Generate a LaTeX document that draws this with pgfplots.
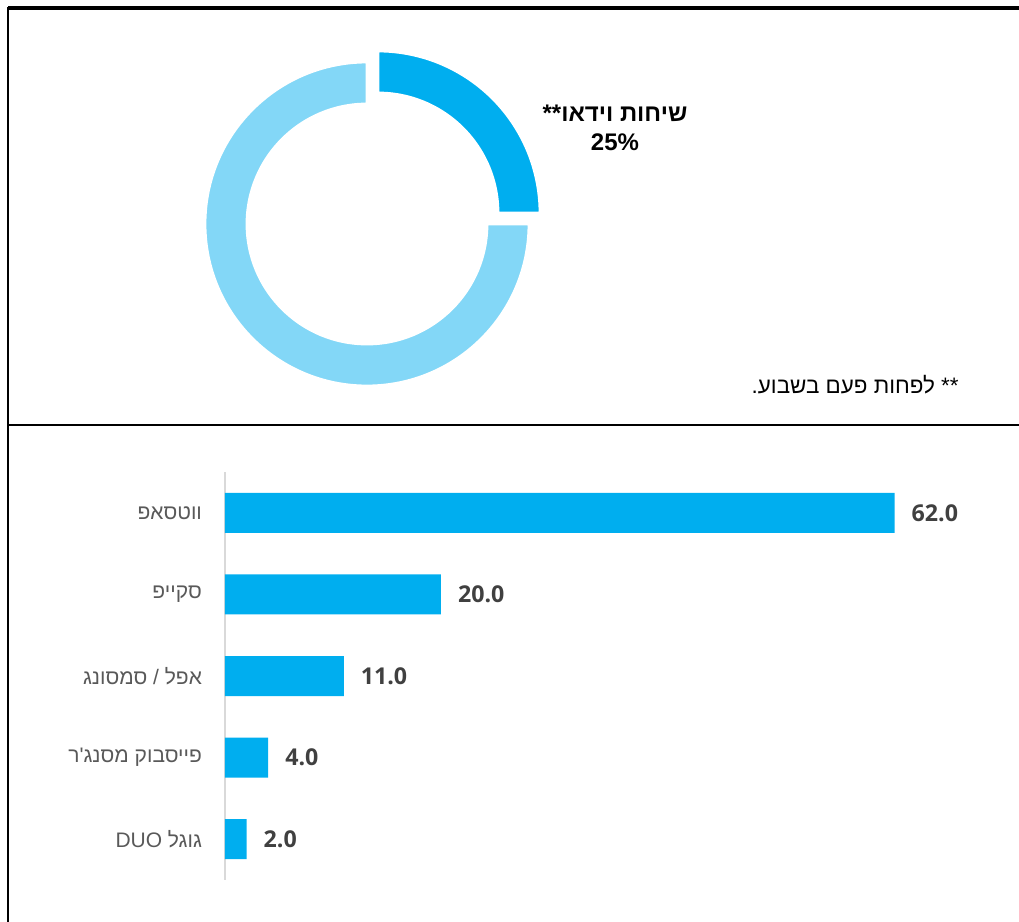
\documentclass[border=0pt]{standalone}
\usepackage{fontspec}
\setmainfont{Liberation Sans}
\newfontfamily\hebfont[Script=Hebrew]{Liberation Sans}
\newfontfamily\numfont{Open Sans}
\usepackage{pgfplots}
\pgfplotsset{compat=1.18}
\TeXXeTstate=1
\definecolor{barblue}{HTML}{00AEEF}
\definecolor{lightblue}{HTML}{83D7F7}
\definecolor{labgray}{HTML}{595959}
\definecolor{valgray}{HTML}{404040}
\definecolor{axgray}{HTML}{D9D9D9}

% share of video calls (percent)
\def\videoshare{25}

\begin{document}
\begin{tikzpicture}
\pgfmathsetmacro\endang{90-3.6*\videoshare}
\pgfmathsetmacro\endangfull{\endang+360}
\begin{scope}[x=0.5pt,y=-0.5pt]
\useasboundingbox (0,0) rectangle (1019,922);
\draw[line width=2pt] (8,8) -- (1019,8);
\draw[line width=1pt] (8,7) -- (8,922);
\draw[line width=1.2pt] (8,425) -- (1019,425);
\node[align=center, font=\bfseries\fontsize{12}{14.5}\selectfont, inner sep=0pt] at (615,128)
  {\hebfont\beginR שיחות וידאו**\endR\\25\%};
\node[anchor=east, font=\fontsize{11.2}{13}\selectfont, inner sep=0pt] at (959,385)
  {\hebfont\beginR ** לפחות פעם בשבוע.\endR};
\end{scope}

% donut
\begin{axis}[at={(183.5pt,-112pt)}, anchor=center, scale only axis,
  width=162pt, height=162pt, xmin=-1, xmax=1, ymin=-1, ymax=1,
  hide axis, clip=false]
\fill[lightblue, draw=white, line width=1.4pt] (axis cs:0,0) ++(90:81pt)
  arc[start angle=90, end angle=\endangfull, radius=81pt] -- ++(\endang+180:21pt)
  arc[start angle=\endangfull, end angle=90, radius=60pt] -- cycle;
\fill[barblue, draw=white, line width=1.4pt] (axis cs:0.068,0.068) ++(90:81pt)
  arc[start angle=90, end angle=\endang, radius=81pt] -- ++(\endang+180:21pt)
  arc[start angle=\endang, end angle=90, radius=60pt] -- cycle;
\end{axis}

% bars
\begin{axis}[at={(112.5pt,-440pt)}, anchor=south west, scale only axis,
  width=378pt, height=204pt, xmin=0, xmax=70, ymin=-0.5, ymax=4.5,
  y dir=reverse, xbar, bar width=20pt,
  axis x line=none, axis y line*=left,
  y axis line style={axgray, line width=1pt, -},
  ytick={0,1,2,3,4}, major tick length=0pt,
  yticklabels={{\beginR ווטסאפ\endR},{\beginR סקייפ\endR},{\beginR אפל / סמסונג\endR},{\beginR פייסבוק מסנג'ר\endR},{\beginR גוגל \beginL DUO\endL\endR}},
  yticklabel style={font=\hebfont\fontsize{10.5}{12}\selectfont, text=labgray, xshift=-8pt},
  nodes near coords,
  nodes near coords style={font=\numfont\bfseries\fontsize{11.6}{13}\selectfont, text=valgray, anchor=west, xshift=5pt},
  /pgf/number format/fixed, /pgf/number format/fixed zerofill,
  /pgf/number format/precision=1, /pgf/number format/assume math mode=true]
\addplot[fill=barblue, draw=none] coordinates {(62,0) (20,1) (11,2) (4,3) (2,4)};
\end{axis}
\end{tikzpicture}
\end{document}
